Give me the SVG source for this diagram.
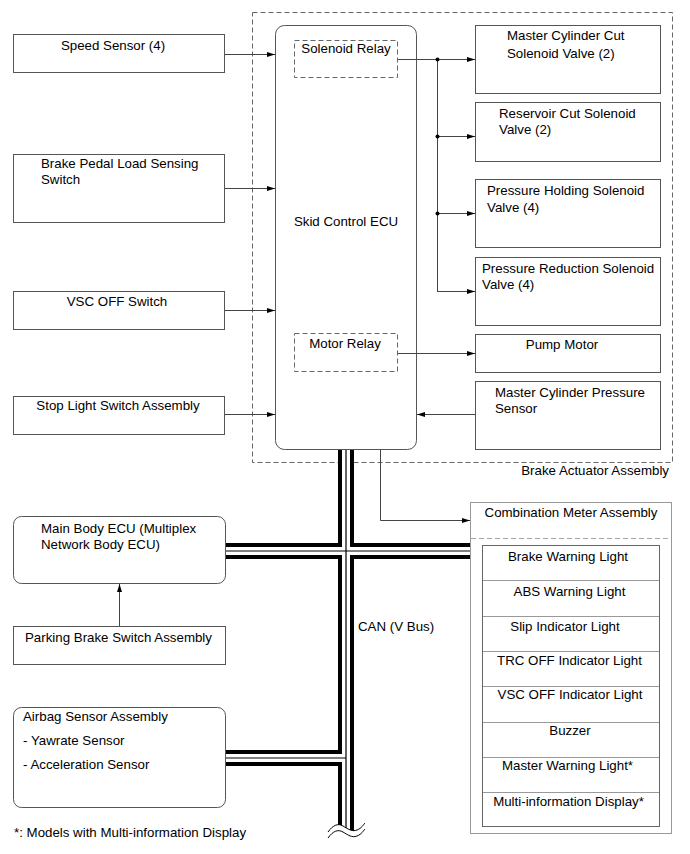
<svg xmlns="http://www.w3.org/2000/svg" width="690" height="854" viewBox="0 0 690 854">
<style>
text{font-family:"Liberation Sans",Arial,sans-serif;font-size:13.3px;fill:#000}
.m{text-anchor:middle}
.box{fill:#fff;stroke:#555;stroke-width:1}
.dash{fill:none;stroke:#666;stroke-width:1;stroke-dasharray:5,3}
.ln{fill:none;stroke:#444;stroke-width:1}
.arr{marker-end:url(#ah)}
.bk{fill:none;stroke:#000;stroke-width:16}
.wh{fill:none;stroke:#fff;stroke-width:8}
.th{fill:none;stroke:#000;stroke-width:1.2}
</style>
<defs>
<marker id="ah" markerUnits="userSpaceOnUse" markerWidth="9" markerHeight="6" refX="8" refY="3" orient="auto">
<path d="M0,0.5 L8,3 L0,5.5 Z" fill="#000"/>
</marker>
</defs>
<rect width="690" height="854" fill="#fff"/>

<g id="brake-actuator">
<rect class="dash" x="252.5" y="12.5" width="420" height="450" stroke="#555"/>
<text x="669" y="475" text-anchor="end">Brake Actuator Assembly</text>
</g>

<g id="skid-ecu">
<rect class="box" x="275.5" y="25.5" width="141" height="424" rx="9"/>
<text class="m" x="346" y="226">Skid Control ECU</text>
</g>
<g id="solenoid-relay">
<rect class="dash" x="294.5" y="40.5" width="103" height="37" stroke="#888"/>
<text class="m" x="346" y="53">Solenoid Relay</text>
</g>
<g id="motor-relay">
<rect class="dash" x="294.5" y="333.5" width="103" height="38" stroke="#888"/>
<text class="m" x="345" y="348">Motor Relay</text>
</g>

<g id="speed-sensor">
<rect class="box" x="13.5" y="34.5" width="211" height="38"/>
<text class="m" x="113" y="50">Speed Sensor (4)</text>
</g>
<g id="brake-pedal">
<rect class="box" x="13.5" y="154.5" width="211" height="68"/>
<text x="41" y="168">Brake Pedal Load Sensing</text>
<text x="41" y="184">Switch</text>
</g>
<g id="vsc-off">
<rect class="box" x="13.5" y="291.5" width="211" height="38"/>
<text class="m" x="117" y="306">VSC OFF Switch</text>
</g>
<g id="stop-light">
<rect class="box" x="13.5" y="396.5" width="211" height="38"/>
<text class="m" x="118" y="410">Stop Light Switch Assembly</text>
</g>

<g id="mc-cut">
<rect class="box" x="475.5" y="25.5" width="185" height="68"/>
<text x="507" y="40">Master Cylinder Cut</text>
<text x="507" y="58">Solenoid Valve (2)</text>
</g>
<g id="res-cut">
<rect class="box" x="475.5" y="102.5" width="185" height="59"/>
<text x="499" y="118">Reservoir Cut Solenoid</text>
<text x="499" y="134">Valve (2)</text>
</g>
<g id="press-hold">
<rect class="box" x="475.5" y="179.5" width="185" height="68"/>
<text x="487" y="195">Pressure Holding Solenoid</text>
<text x="487" y="212">Valve (4)</text>
</g>
<g id="press-red">
<rect class="box" x="475.5" y="257.5" width="185" height="68"/>
<text x="482" y="273">Pressure Reduction Solenoid</text>
<text x="482" y="289">Valve (4)</text>
</g>
<g id="pump-motor">
<rect class="box" x="475.5" y="334.5" width="185" height="38"/>
<text class="m" x="562" y="349">Pump Motor</text>
</g>
<g id="mc-press">
<rect class="box" x="475.5" y="381.5" width="185" height="68"/>
<text x="495" y="397">Master Cylinder Pressure</text>
<text x="495" y="413">Sensor</text>
</g>

<g id="main-body-ecu">
<rect class="box" x="13.5" y="516.5" width="212" height="67" rx="8"/>
<text x="41" y="533">Main Body ECU (Multiplex</text>
<text x="41" y="549">Network Body ECU)</text>
</g>
<g id="parking-brake">
<rect class="box" x="13.5" y="626.5" width="212" height="38"/>
<text x="25" y="642">Parking Brake Switch Assembly</text>
</g>
<g id="airbag">
<rect class="box" x="13.5" y="707.5" width="212" height="100" rx="8"/>
<text x="23" y="721">Airbag Sensor Assembly</text>
<text x="23" y="745">- Yawrate Sensor</text>
<text x="23" y="769">- Acceleration Sensor</text>
</g>

<g id="combination-meter">
<rect x="470.5" y="502.5" width="201" height="331" fill="#fff" stroke="#999"/>
<text class="m" x="571" y="517">Combination Meter Assembly</text>
<line x1="471" y1="538.5" x2="671" y2="538.5" stroke="#aaa" stroke-dasharray="5,3"/>
<rect x="482.5" y="545.5" width="177" height="281" fill="none" stroke="#666"/>
<g stroke="#999">
<line x1="483" y1="580.5" x2="659" y2="580.5"/>
<line x1="483" y1="616.5" x2="659" y2="616.5"/>
<line x1="483" y1="651.5" x2="659" y2="651.5"/>
<line x1="483" y1="686.5" x2="659" y2="686.5"/>
<line x1="483" y1="722.5" x2="659" y2="722.5"/>
<line x1="483" y1="757.5" x2="659" y2="757.5"/>
<line x1="483" y1="792.5" x2="659" y2="792.5"/>
</g>
<text class="m" x="568" y="561">Brake Warning Light</text>
<text class="m" x="569.5" y="596">ABS Warning Light</text>
<text class="m" x="565" y="631">Slip Indicator Light</text>
<text class="m" x="569.5" y="665">TRC OFF Indicator Light</text>
<text class="m" x="570" y="699">VSC OFF Indicator Light</text>
<text class="m" x="570" y="735">Buzzer</text>
<text class="m" x="567.5" y="770">Master Warning Light*</text>
<text class="m" x="568.5" y="806">Multi-information Display*</text>
</g>

<g id="connectors">
<path class="ln arr" d="M225,54.5 H275"/>
<path class="ln arr" d="M225,188.5 H275"/>
<path class="ln arr" d="M225,310.5 H275"/>
<path class="ln arr" d="M225,414.5 H275"/>
<path class="ln arr" d="M398,59.5 H475"/>
<path class="ln" d="M437.5,59.5 V291.5"/>
<path class="ln arr" d="M437.5,136.5 H475"/>
<path class="ln arr" d="M437.5,213.5 H475"/>
<path class="ln arr" d="M437,291.5 H475"/>
<circle cx="437.5" cy="59.5" r="2" fill="#000"/>
<circle cx="437.5" cy="136.5" r="2" fill="#000"/>
<circle cx="437.5" cy="213.5" r="2" fill="#000"/>
<path class="ln arr" d="M398,353.5 H475"/>
<path class="ln arr" d="M475,414.5 H417"/>
<path class="ln arr" d="M380.5,450 V520.5 H470"/>
<path class="ln arr" d="M119.5,626 V584"/>
<g id="can-bus">
<path class="bk" d="M346,450 V834 M226,551 H470 M226,758 H346"/>
<path class="wh" d="M346,450 V834 M226,551 H470 M226,758 H346"/>
<path class="th" d="M346,450 V834 M226,551 H470 M226,758 H346"/>
<path d="M328,832 C333,825 338,823 343,826 S352,832 357,830 S363,825 365,823 L365,850 L328,850 Z" fill="#fff"/>
<path d="M328,832 C333,825 338,823 343,826 S352,832 357,830 S363,825 365,823" fill="none" stroke="#000" stroke-width="1"/>
<path d="M328,838 C333,831 338,829 343,832 S352,838 357,836 S363,831 365,829" fill="none" stroke="#000" stroke-width="1"/>
</g>
<text x="358" y="631">CAN (V Bus)</text>
</g>

<text x="14" y="837">*: Models with Multi-information Display</text>
</svg>
